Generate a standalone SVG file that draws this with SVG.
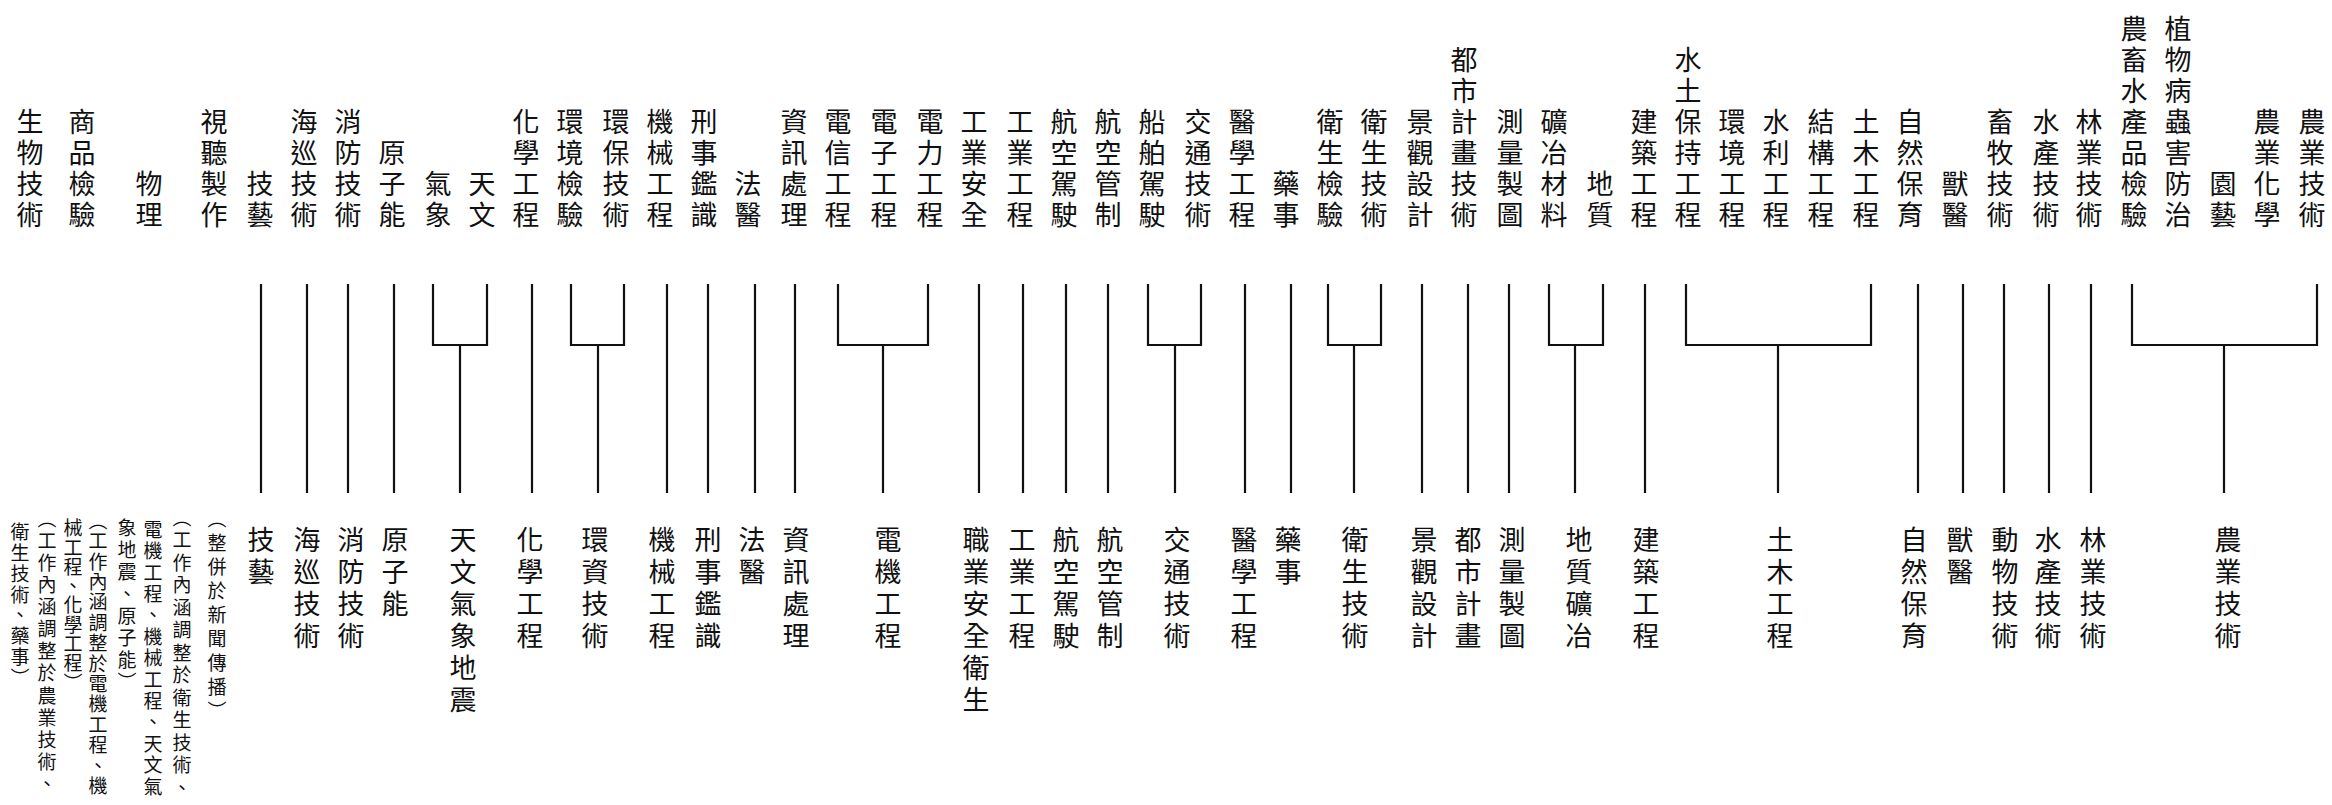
<svg xmlns="http://www.w3.org/2000/svg" width="2332" height="805" viewBox="0 0 2332 805">
<style>
text{font-family:"Noto Sans CJK TC","Noto Sans CJK SC",sans-serif;fill:#111;writing-mode:vertical-rl;}
.t{font-size:27px;letter-spacing:4px;}
.b{font-size:27px;letter-spacing:5px;}
.s{font-size:19px;}
.c path{fill:none;stroke:#111;stroke-width:2.2;}
</style>
<rect width="2332" height="805" fill="#fff"/>
<g id="top">
<g id="t01"><text class="t" x="30" y="108.5">生物技術</text></g>
<g id="t02"><text class="t" x="82" y="108.5">商品檢驗</text></g>
<g id="t03"><text class="t" x="149" y="170.5">物理</text></g>
<g id="t04"><text class="t" x="214" y="108.5">視聽製作</text></g>
<g id="t05"><text class="t" x="260" y="170.5">技藝</text></g>
<g id="t06"><text class="t" x="304" y="108.5">海巡技術</text></g>
<g id="t07"><text class="t" x="348" y="108.5">消防技術</text></g>
<g id="t08"><text class="t" x="392" y="139.5">原子能</text></g>
<g id="t09"><text class="t" x="438" y="170.5">氣象</text></g>
<g id="t10"><text class="t" x="482" y="170.5">天文</text></g>
<g id="t11"><text class="t" x="526" y="108.5">化學工程</text></g>
<g id="t12"><text class="t" x="570" y="108.5">環境檢驗</text></g>
<g id="t13"><text class="t" x="616" y="108.5">環保技術</text></g>
<g id="t14"><text class="t" x="660" y="108.5">機械工程</text></g>
<g id="t15"><text class="t" x="704" y="108.5">刑事鑑識</text></g>
<g id="t16"><text class="t" x="748" y="170.5">法醫</text></g>
<g id="t17"><text class="t" x="794" y="108.5">資訊處理</text></g>
<g id="t18"><text class="t" x="838" y="108.5">電信工程</text></g>
<g id="t19"><text class="t" x="884" y="108.5">電子工程</text></g>
<g id="t20"><text class="t" x="930" y="108.5">電力工程</text></g>
<g id="t21"><text class="t" x="974" y="108.5">工業安全</text></g>
<g id="t22"><text class="t" x="1020" y="108.5">工業工程</text></g>
<g id="t23"><text class="t" x="1064" y="108.5">航空駕駛</text></g>
<g id="t24"><text class="t" x="1108" y="108.5">航空管制</text></g>
<g id="t25"><text class="t" x="1152" y="108.5">船舶駕駛</text></g>
<g id="t26"><text class="t" x="1198" y="108.5">交通技術</text></g>
<g id="t27"><text class="t" x="1242" y="108.5">醫學工程</text></g>
<g id="t28"><text class="t" x="1286" y="170.5">藥事</text></g>
<g id="t29"><text class="t" x="1330" y="108.5">衛生檢驗</text></g>
<g id="t30"><text class="t" x="1374" y="108.5">衛生技術</text></g>
<g id="t31"><text class="t" x="1420" y="108.5">景觀設計</text></g>
<g id="t32"><text class="t" x="1464" y="46.5">都市計畫技術</text></g>
<g id="t33"><text class="t" x="1510" y="108.5">測量製圖</text></g>
<g id="t34"><text class="t" x="1554" y="108.5">礦冶材料</text></g>
<g id="t35"><text class="t" x="1600" y="170.5">地質</text></g>
<g id="t36"><text class="t" x="1644" y="108.5">建築工程</text></g>
<g id="t37"><text class="t" x="1688" y="46.5">水土保持工程</text></g>
<g id="t38"><text class="t" x="1732" y="108.5">環境工程</text></g>
<g id="t39"><text class="t" x="1776" y="108.5">水利工程</text></g>
<g id="t40"><text class="t" x="1821" y="108.5">結構工程</text></g>
<g id="t41"><text class="t" x="1866" y="108.5">土木工程</text></g>
<g id="t42"><text class="t" x="1910" y="108.5">自然保育</text></g>
<g id="t43"><text class="t" x="1955" y="170.5">獸醫</text></g>
<g id="t44"><text class="t" x="2000" y="108.5">畜牧技術</text></g>
<g id="t45"><text class="t" x="2046" y="108.5">水產技術</text></g>
<g id="t46"><text class="t" x="2089" y="108.5">林業技術</text></g>
<g id="t47"><text class="t" x="2134" y="15.5">農畜水產品檢驗</text></g>
<g id="t48"><text class="t" x="2178" y="15.5">植物病蟲害防治</text></g>
<g id="t49"><text class="t" x="2223" y="170.5">園藝</text></g>
<g id="t50"><text class="t" x="2267" y="108.5">農業化學</text></g>
<g id="t51"><text class="t" x="2312" y="108.5">農業技術</text></g>
</g>
<g id="connectors" class="c">
<path d="M261 284V493M307 284V493M348 284V493M394 284V493M532 284V493M667 284V493M708 284V493M755 284V493M795 284V493M979 284V493M1023 284V493M1066 284V493M1108 284V493M1245 284V493M1291 284V493M1422 284V493M1468 284V493M1509 284V493M1645 284V493M1918 284V493M1963 284V493M2004 284V493M2049 284V493M2091 284V493"/>
<path d="M433 284V345H487V284M460 345V493"/>
<path d="M571 284V345H624V284M598 345V493"/>
<path d="M838 284V345H928V284M883 345V493"/>
<path d="M1148 284V345H1201V284M1175 345V493"/>
<path d="M1328 284V345H1381V284M1354 345V493"/>
<path d="M1549 284V345H1603V284M1575 345V493"/>
<path d="M1686 284V345H1871V284M1778 345V493"/>
<path d="M2132 284V345H2317V284M2224 345V493"/>
</g>
<g id="bottom">
<g id="b01"><text class="b" x="261" y="526.5">技藝</text></g>
<g id="b02"><text class="b" x="307" y="526.5">海巡技術</text></g>
<g id="b03"><text class="b" x="351" y="526.5">消防技術</text></g>
<g id="b04"><text class="b" x="395" y="526.5">原子能</text></g>
<g id="b05"><text class="b" x="463" y="526.5">天文氣象地震</text></g>
<g id="b06"><text class="b" x="530" y="526.5">化學工程</text></g>
<g id="b07"><text class="b" x="595" y="526.5">環資技術</text></g>
<g id="b08"><text class="b" x="662" y="526.5">機械工程</text></g>
<g id="b09"><text class="b" x="708" y="526.5">刑事鑑識</text></g>
<g id="b10"><text class="b" x="752" y="526.5">法醫</text></g>
<g id="b11"><text class="b" x="796" y="526.5">資訊處理</text></g>
<g id="b12"><text class="b" x="888" y="526.5">電機工程</text></g>
<g id="b13"><text class="b" x="976" y="526.5">職業安全衛生</text></g>
<g id="b14"><text class="b" x="1022" y="526.5">工業工程</text></g>
<g id="b15"><text class="b" x="1066" y="526.5">航空駕駛</text></g>
<g id="b16"><text class="b" x="1110" y="526.5">航空管制</text></g>
<g id="b17"><text class="b" x="1177" y="526.5">交通技術</text></g>
<g id="b18"><text class="b" x="1244" y="526.5">醫學工程</text></g>
<g id="b19"><text class="b" x="1288" y="526.5">藥事</text></g>
<g id="b20"><text class="b" x="1355" y="526.5">衛生技術</text></g>
<g id="b21"><text class="b" x="1424" y="526.5">景觀設計</text></g>
<g id="b22"><text class="b" x="1468" y="526.5">都市計畫</text></g>
<g id="b23"><text class="b" x="1512" y="526.5">測量製圖</text></g>
<g id="b24"><text class="b" x="1579" y="526.5">地質礦冶</text></g>
<g id="b25"><text class="b" x="1646" y="526.5">建築工程</text></g>
<g id="b26"><text class="b" x="1780" y="526.5">土木工程</text></g>
<g id="b27"><text class="b" x="1914" y="526.5">自然保育</text></g>
<g id="b28"><text class="b" x="1960" y="526.5">獸醫</text></g>
<g id="b29"><text class="b" x="2005" y="526.5">動物技術</text></g>
<g id="b30"><text class="b" x="2048" y="526.5">水產技術</text></g>
<g id="b31"><text class="b" x="2093" y="526.5">林業技術</text></g>
<g id="b32"><text class="b" x="2228" y="526.5">農業技術</text></g>
</g>
<g id="notes">
<g id="n1"><text class="s" x="217" y="509.5" style="letter-spacing:5px">（整併於新聞傳播）</text></g>
<g id="n2"><text class="s" x="182" y="508" style="letter-spacing:3.5px">（工作內涵調整於衛生技術、</text><text class="s" x="153" y="520" style="letter-spacing:2.4px">電機工程、機械工程、天文氣</text><text class="s" x="127" y="518.5" style="letter-spacing:3px">象地震、原子能）</text></g>
<g id="n3"><text class="s" x="98" y="511" style="letter-spacing:1.4px">（工作內涵調整於電機工程、機</text><text class="s" x="73" y="518.5" style="letter-spacing:0.3px">械工程、化學工程）</text></g>
<g id="n4"><text class="s" x="47" y="509" style="letter-spacing:3.1px">（工作內涵調整於農業技術、</text><text class="s" x="20" y="522.5" style="letter-spacing:1.8px">衛生技術、藥事）</text></g>
</g>
</svg>
